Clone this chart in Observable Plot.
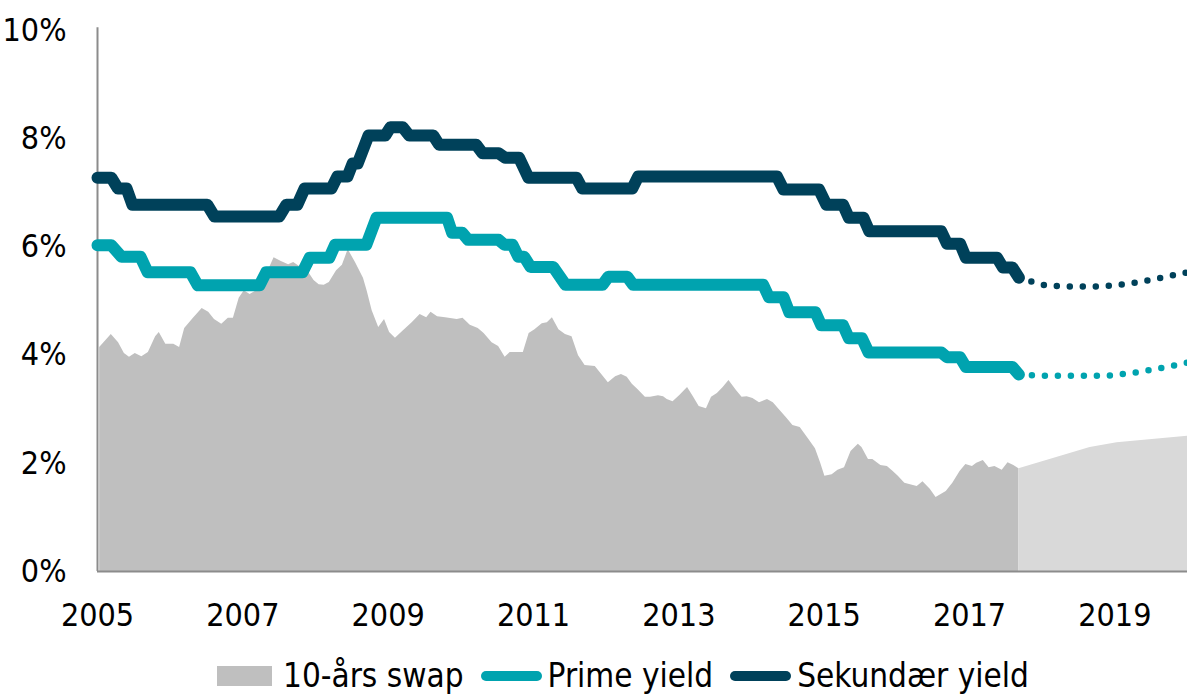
<!DOCTYPE html>
<html>
<head>
<meta charset="utf-8">
<script src="https://cdn.jsdelivr.net/npm/d3@7"></script>
<script src="https://cdn.jsdelivr.net/npm/@observablehq/plot@0.6"></script>
<style>
  html, body { margin: 0; padding: 0; background: #fff; }
  body { width: 1187px; height: 695px; overflow: hidden; font-family: "DejaVu Sans Condensed", "DejaVu Sans", sans-serif; }
  #legend { display: flex; align-items: center; margin-left: 217px; margin-top: 28px; font-size: 33px; color: #000; line-height: 1; }
  #legend .sw-area { width: 55px; height: 20px; background: #BFBFBF; margin-right: 11px; }
  #legend .sw-line { width: 61px; height: 10px; border-radius: 5px; margin-right: 6px; }
  #legend .lbl { margin-right: 17px; }
</style>
</head>
<body>
<div id="chart"></div>
<div id="legend"></div>
<script>
// Tick labels
const xTicks = [2005, 2007, 2009, 2011, 2013, 2015, 2017, 2019];
const yTicks = [0, 2, 4, 6, 8, 10];

// Series names and colours
const seriesNames = ["10-års swap", "Prime yield", "Sekundær yield"];
const seriesColors = ["#BFBFBF", "#00A3AF", "#00415A"];
const forecastAreaColor = "#D9D9D9";

// 10-års swap, historical [year, %]
const swapYears = [2005.03,2005.19,2005.29,2005.37,2005.44,2005.52,2005.61,2005.70,2005.80,2005.85,2005.94,2006.05,2006.13,2006.20,2006.32,2006.44,2006.53,2006.61,2006.71,2006.80,2006.87,2006.95,2007.02,2007.10,2007.19,2007.27,2007.37,2007.43,2007.53,2007.63,2007.70,2007.78,2007.87,2007.98,2008.05,2008.12,2008.19,2008.29,2008.37,2008.45,2008.55,2008.66,2008.71,2008.78,2008.87,2008.95,2009.02,2009.10,2009.21,2009.33,2009.44,2009.53,2009.59,2009.68,2009.79,2009.95,2010.03,2010.13,2010.24,2010.32,2010.43,2010.52,2010.61,2010.68,2010.86,2010.94,2011.02,2011.12,2011.19,2011.26,2011.35,2011.44,2011.53,2011.62,2011.71,2011.85,2012.03,2012.13,2012.21,2012.29,2012.36,2012.44,2012.54,2012.61,2012.72,2012.79,2012.84,2012.92,2013.01,2013.12,2013.20,2013.28,2013.38,2013.45,2013.53,2013.61,2013.69,2013.79,2013.87,2013.94,2014.02,2014.11,2014.22,2014.30,2014.39,2014.49,2014.57,2014.67,2014.78,2014.88,2014.95,2015.01,2015.11,2015.19,2015.28,2015.37,2015.47,2015.52,2015.61,2015.67,2015.78,2015.87,2015.95,2016.02,2016.11,2016.28,2016.36,2016.46,2016.54,2016.68,2016.77,2016.87,2016.95,2017.04,2017.10,2017.19,2017.27,2017.35,2017.45,2017.53,2017.61,2017.68];
const swapValues = [4.14,4.38,4.23,4.03,3.96,4.03,3.97,4.05,4.34,4.42,4.20,4.20,4.14,4.49,4.68,4.86,4.79,4.66,4.57,4.68,4.68,5.05,5.19,5.12,5.19,5.35,5.62,5.80,5.73,5.67,5.71,5.64,5.60,5.38,5.30,5.29,5.34,5.56,5.66,5.95,5.71,5.42,5.19,4.82,4.51,4.66,4.42,4.31,4.45,4.60,4.75,4.69,4.79,4.71,4.69,4.66,4.68,4.55,4.49,4.40,4.23,4.16,3.96,4.05,4.05,4.40,4.47,4.58,4.60,4.69,4.47,4.38,4.34,3.99,3.81,3.79,3.49,3.60,3.64,3.59,3.46,3.36,3.22,3.22,3.25,3.23,3.18,3.14,3.25,3.40,3.23,3.05,3.01,3.22,3.29,3.40,3.53,3.35,3.22,3.23,3.20,3.12,3.18,3.12,2.98,2.83,2.70,2.66,2.46,2.27,2.01,1.76,1.79,1.87,1.92,2.22,2.35,2.29,2.07,2.07,1.96,1.94,1.85,1.76,1.63,1.57,1.66,1.52,1.37,1.48,1.63,1.85,1.98,1.94,2.00,2.05,1.92,1.94,1.87,2.01,1.96,1.90];

// 10-års swap, forecast
const swapFcYears = [2017.68, 2018.66, 2019.03, 2020.0];
const swapFcValues = [1.90, 2.29, 2.38, 2.50];

// Prime yield, historical
const primeYears = [2005.0,2005.19,2005.33,2005.59,2005.69,2006.28,2006.38,2007.23,2007.32,2007.82,2007.92,2008.19,2008.27,2008.70,2008.84,2009.81,2009.88,2010.02,2010.10,2010.52,2010.60,2010.71,2010.79,2010.87,2010.96,2011.27,2011.44,2011.95,2012.03,2012.29,2012.37,2014.16,2014.24,2014.44,2014.52,2014.88,2014.96,2015.26,2015.34,2015.52,2015.61,2016.61,2016.69,2016.87,2016.95,2017.59,2017.68];
const primeValues = [6.03,6.03,5.82,5.82,5.53,5.53,5.29,5.29,5.53,5.53,5.80,5.80,6.04,6.04,6.54,6.54,6.26,6.26,6.13,6.13,6.04,6.04,5.82,5.82,5.63,5.63,5.30,5.30,5.45,5.45,5.30,5.30,5.07,5.07,4.79,4.79,4.55,4.55,4.31,4.31,4.05,4.05,3.96,3.96,3.78,3.78,3.64];

// Prime yield, forecast
const primeFcYears = [2017.68, 2018.0, 2018.5, 2018.9, 2019.25, 2019.5, 2019.75, 2020.0];
const primeFcValues = [3.64, 3.62, 3.62, 3.62, 3.67, 3.73, 3.79, 3.86];

// Sekundær yield, historical
const secYears = [2005.0,2005.19,2005.28,2005.40,2005.48,2006.51,2006.61,2007.50,2007.60,2007.75,2007.85,2008.22,2008.30,2008.44,2008.51,2008.58,2008.73,2008.96,2009.03,2009.20,2009.29,2009.62,2009.70,2010.21,2010.30,2010.52,2010.61,2010.80,2010.93,2011.59,2011.67,2012.36,2012.44,2014.35,2014.44,2014.93,2015.03,2015.26,2015.34,2015.54,2015.62,2016.61,2016.69,2016.87,2016.95,2017.38,2017.46,2017.59,2017.68];
const secValues = [7.28,7.28,7.08,7.08,6.78,6.78,6.56,6.56,6.78,6.78,7.08,7.08,7.30,7.30,7.54,7.54,8.06,8.06,8.21,8.21,8.06,8.06,7.89,7.89,7.73,7.73,7.65,7.65,7.28,7.28,7.08,7.08,7.30,7.30,7.06,7.06,6.78,6.78,6.54,6.54,6.29,6.29,6.06,6.06,5.80,5.80,5.62,5.62,5.43];

// Sekundær yield, forecast
const secFcYears = [2017.68, 2018.0, 2018.25, 2018.5, 2018.75, 2019.0, 2019.25, 2019.5, 2019.75, 2020.0];
const secFcValues = [5.43, 5.30, 5.27, 5.27, 5.27, 5.29, 5.33, 5.39, 5.46, 5.53];

const zip = (xs, ys) => xs.map((x, i) => ({x, y: ys[i]}));
const swap = zip(swapYears, swapValues);
const swapFc = zip(swapFcYears, swapFcValues);
const prime = zip(primeYears, primeValues);
const primeFc = zip(primeFcYears, primeFcValues);
const sec = zip(secYears, secValues);
const secFc = zip(secFcYears, secFcValues);

const chart = Plot.plot({
  width: 1187,
  height: 631,
  marginLeft: 97,
  marginRight: 0,
  marginTop: 30,
  marginBottom: 60,
  style: { fontFamily: '"DejaVu Sans Condensed", "DejaVu Sans", sans-serif', fontSize: "32px", color: "#000", background: "#fff", overflow: "visible" },
  x: { domain: [2005, 2020], ticks: xTicks, tickFormat: d => String(d), tickSize: 0, tickPadding: 32, label: null },
  y: { domain: [0, 10], ticks: yTicks, tickFormat: d => d + "%", tickSize: 0, tickPadding: 31, label: null },
  marks: [
    Plot.areaY(swap, {x: "x", y: "y", fill: seriesColors[0]}),
    Plot.areaY(swapFc, {x: "x", y: "y", fill: forecastAreaColor}),
    Plot.ruleX([2005], {y1: 0, y2: 10.05, stroke: "#8c8c8c", strokeWidth: 2}),
    Plot.ruleY([0], {stroke: "#8c8c8c", strokeWidth: 2}),
    Plot.line(primeFc, {x: "x", y: "y", stroke: seriesColors[1], strokeWidth: 6.5, strokeDasharray: "0 13", strokeLinecap: "round"}),
    Plot.line(secFc, {x: "x", y: "y", stroke: seriesColors[2], strokeWidth: 6.5, strokeDasharray: "0 13", strokeLinecap: "round"}),
    Plot.line(prime, {x: "x", y: "y", stroke: seriesColors[1], strokeWidth: 12, strokeLinejoin: "round", strokeLinecap: "round"}),
    Plot.line(sec, {x: "x", y: "y", stroke: seriesColors[2], strokeWidth: 12, strokeLinejoin: "round", strokeLinecap: "round"})
  ]
});
document.getElementById("chart").appendChild(chart);

const legend = document.getElementById("legend");
seriesNames.forEach((name, i) => {
  const sw = document.createElement("div");
  if (i === 0) { sw.className = "sw-area"; }
  else { sw.className = "sw-line"; sw.style.background = seriesColors[i]; }
  legend.appendChild(sw);
  const t = document.createElement("span");
  t.className = "lbl";
  t.textContent = name;
  legend.appendChild(t);
});
</script>
</body>
</html>
